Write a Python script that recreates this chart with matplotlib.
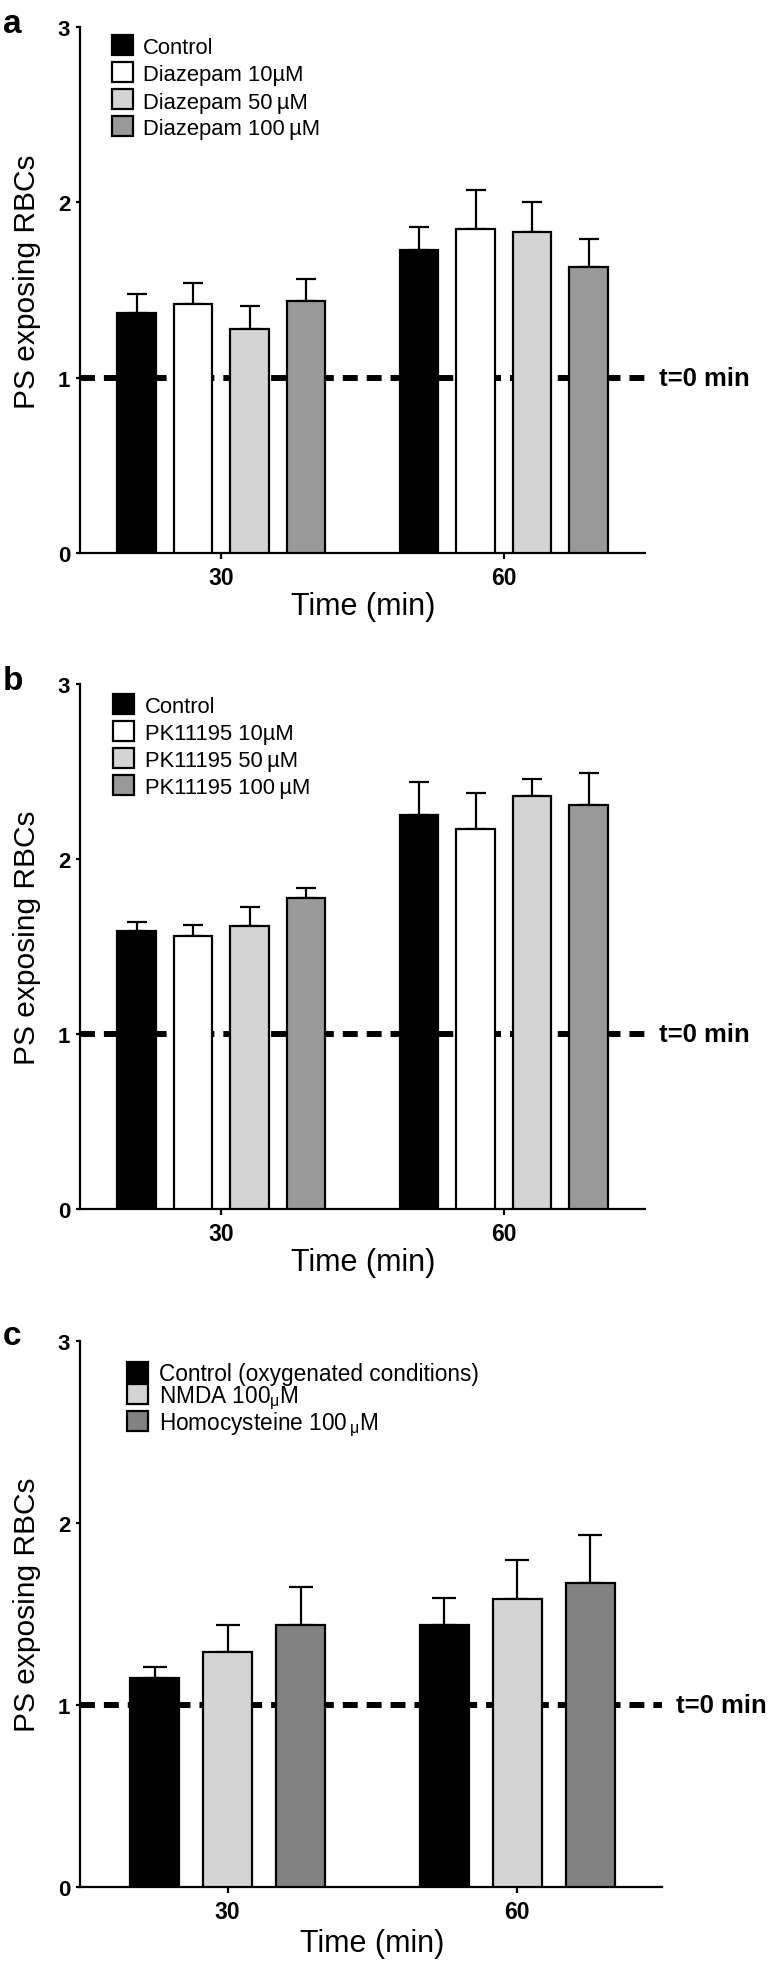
import matplotlib
matplotlib.use('Agg')
import matplotlib.pyplot as plt
import numpy as np
from matplotlib.patches import Rectangle

plt.rcParams['font.family'] = ['Liberation Sans', 'DejaVu Sans']
plt.rcParams['mathtext.fontset'] = 'custom'
plt.rcParams['mathtext.rm'] = 'Liberation Sans'
plt.rcParams['mathtext.it'] = 'Liberation Sans:italic'

W, H = 773, 1965

# ---------------- data ----------------
times = ['30', '60']

a_labels = ['Control', 'Diazepam 10µM', 'Diazepam 50\u2009µM', 'Diazepam 100\u2009µM']
a_means = [[1.37, 1.73], [1.42, 1.85], [1.28, 1.83], [1.44, 1.63]]
a_errs = [[0.11, 0.13], [0.12, 0.22], [0.13, 0.17], [0.12, 0.16]]
a_colors = ['#000000', '#ffffff', '#d4d4d4', '#999999']

b_labels = ['Control', 'PK11195 10µM', 'PK11195 50\u2009µM', 'PK11195 100\u2009µM']
b_means = [[1.59, 2.25], [1.56, 2.17], [1.62, 2.36], [1.78, 2.31]]
b_errs = [[0.05, 0.19], [0.065, 0.21], [0.105, 0.10], [0.057, 0.18]]
b_colors = ['#000000', '#ffffff', '#d4d4d4', '#999999']

c_labels = ['Control (oxygenated conditions)', r'NMDA 100$_\mathrm{\mu}$M',
            r'Homocysteine 100$\,_\mathrm{\mu}$M']
c_means = [[1.15, 1.44], [1.29, 1.58], [1.44, 1.67]]
c_errs = [[0.06, 0.15], [0.15, 0.215], [0.21, 0.265]]
c_colors = ['#000000', '#d4d4d4', '#828282']

baseline_value = 1.0
baseline_label = 't=0 min'
ylabel = 'PS exposing RBCs'
xlabel = 'Time (min)'

fig = plt.figure(figsize=(W / 100, H / 100), dpi=100)


def px_axes(left, right, top, bottom):
    return fig.add_axes([left / W, 1 - bottom / H, (right - left) / W, (bottom - top) / H])


def panel(ax, means, errs, colors, step, width, capsize, xlim):
    n = len(means)
    x = np.arange(len(times))
    offs = (np.arange(n) - (n - 1) / 2) * step
    ax.axhline(baseline_value, color='black', lw=4.3, ls=(0, (2.5, 1.5)), zorder=1)
    for i in range(n):
        ax.bar(x + offs[i], means[i], width=width, color=colors[i], edgecolor='black',
               linewidth=1.6, zorder=3)
        ax.errorbar(x + offs[i], means[i], yerr=[np.zeros(len(times)), errs[i]], fmt='none',
                    ecolor='black', elinewidth=1.6, capsize=capsize, capthick=1.6, zorder=2)
    ax.set_xlim(*xlim)
    ax.set_ylim(0, 3)
    ax.set_yticks([0, 1, 2, 3])
    ax.set_xticks(x)
    ax.set_xticklabels(times)
    for s in ['top', 'right']:
        ax.spines[s].set_visible(False)
    for s in ['left', 'bottom']:
        ax.spines[s].set_linewidth(1.6)
    ax.tick_params(axis='y', direction='out', length=3, width=1.6, pad=4, labelsize=16)
    ax.tick_params(axis='x', direction='out', length=4.5, width=1.6, pad=5, labelsize=16.5)
    for t in ax.get_xticklabels() + ax.get_yticklabels():
        t.set_fontweight('bold')
    ax.annotate(baseline_label, xy=(1, baseline_value), xycoords=('axes fraction', 'data'),
                xytext=(14, 0), textcoords='offset pixels', ha='left', va='center',
                fontsize=18.5, fontweight='bold', annotation_clip=False)


def legend(labels, colors, sq_left, sq_w, sq_h, rows, text_x, fs=15.8):
    for lab, col, yc in zip(labels, colors, rows):
        fig.patches.append(Rectangle((sq_left / W, 1 - (yc + sq_h / 2) / H), sq_w / W, sq_h / H,
                                     transform=fig.transFigure, facecolor=col,
                                     edgecolor='black', linewidth=1.6))
        fig.text(text_x / W, 1 - (yc + 8.5) / H, lab, fontsize=fs, ha='left', va='baseline')


# panel a
axa = px_axes(80, 645, 28, 554)
panel(axa, a_means, a_errs, a_colors, 0.2, 0.138, 7.2, (-0.5, 1.5))
legend(a_labels, a_colors, 112, 21, 20, [46, 73, 100, 127], 143)
fig.text(3 / W, 1 - 33 / H, 'a', fontsize=24, fontweight='bold', ha='left', va='baseline')
fig.text(27 / W, 1 - 282 / H, ylabel, rotation=90, fontsize=21.5, ha='center', va='center')
fig.text(363 / W, 1 - 615 / H, xlabel, fontsize=22, ha='center', va='baseline')

# panel b
axb = px_axes(80, 645, 685, 1210)
panel(axb, b_means, b_errs, b_colors, 0.2, 0.138, 7.2, (-0.5, 1.5))
legend(b_labels, b_colors, 113, 21, 20, [704.5, 731.5, 758.5, 785.5], 145)
fig.text(3 / W, 1 - 690 / H, 'b', fontsize=24, fontweight='bold', ha='left', va='baseline')
fig.text(27 / W, 1 - 938 / H, ylabel, rotation=90, fontsize=21.5, ha='center', va='center')
fig.text(363 / W, 1 - 1271 / H, xlabel, fontsize=22, ha='center', va='baseline')

# panel c
axc = px_axes(80, 662, 1342, 1888)
panel(axc, c_means, c_errs, c_colors, 0.252, 0.169, 8.8, (-0.51, 1.5))
legend(c_labels, c_colors, 127, 21, 20, [1373, 1395, 1422], 159, fs=16.3)
fig.text(3 / W, 1 - 1345 / H, 'c', fontsize=24, fontweight='bold', ha='left', va='baseline')
fig.text(27 / W, 1 - 1605 / H, ylabel, rotation=90, fontsize=21.5, ha='center', va='center')
fig.text(372 / W, 1 - 1952 / H, xlabel, fontsize=22, ha='center', va='baseline')

fig.savefig('out.png', dpi=100)
